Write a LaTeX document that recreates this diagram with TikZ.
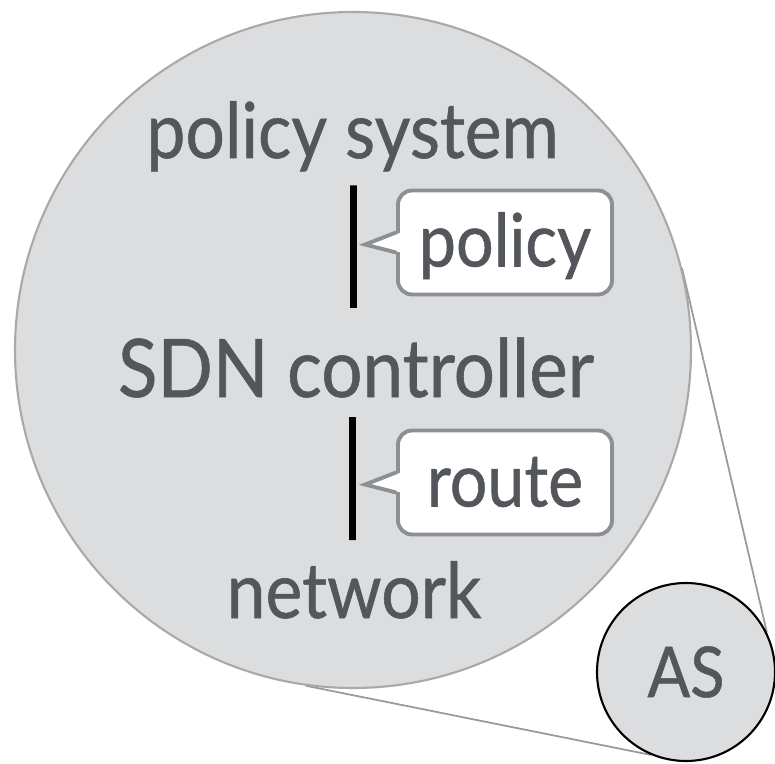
\documentclass[tikz,border=0pt]{standalone}
\usepackage{fontspec}
\setmainfont{Lato}
\newfontfamily\labelfont{Lato}[FakeStretch=0.9, FakeBold=0.7]
\usepackage{tikz}
\usetikzlibrary{backgrounds}
\definecolor{diskfill}{HTML}{DCDDDF}
\definecolor{diskedge}{HTML}{A9A9A9}
\definecolor{labeltext}{HTML}{53575C}
\definecolor{tagedge}{HTML}{8C8F93}
\definecolor{zoomedge}{HTML}{9A9A9A}
\tikzset{
    bigdisk/.style={circle, draw=diskedge, fill=diskfill, line width=1.2pt, minimum size=13.52cm, inner sep=0pt},
    asdisk/.style={circle, draw=black, fill=diskfill, line width=1.2pt, minimum size=3.56cm, inner sep=0pt, text=labeltext, font=\labelfont\fontsize{40}{46}\selectfont},
    layer/.style={anchor=base, text=labeltext, inner sep=0pt, font=\labelfont\fontsize{44}{52}\selectfont},
    tag/.style={rectangle, rounded corners=8pt, draw=tagedge, fill=white, line width=2.2pt, minimum width=4.28cm, inner xsep=0pt, inner ysep=0pt, text height=1.52cm, text depth=0.56cm, text=labeltext, font=\labelfont\fontsize{42}{50}\selectfont},
    tagtail/.style={draw=tagedge, line width=2.2pt, line join=miter},
    bar/.style={line width=3.8pt, draw=black},
    zoomline/.style={draw=zoomedge, line width=1pt},
}
\begin{document}
\begin{tikzpicture}
    \useasboundingbox (0,0) rectangle (15.5,15.26);
    \node [bigdisk] (big) at (7.06,8.26) {};
    \node [asdisk] (as) at (13.72,1.82) {AS};
    \node [layer] (sys) at (7.05,12.1) {policy system};
    \node [layer, font=\labelfont\fontsize{46}{54}\selectfont] (ctrl) at (7.12,7.32) {SDN controller};
    \node [layer] (net) at (7.08,2.9) {network};
    \node [tag] (pol) at (10.1,10.41) {policy};
    \node [tag] (rte) at (10.1,5.61) {route};
    % tails of the two tags
    \fill [white] ([xshift=3pt,yshift=0.2cm]pol.west) -- ++(-0.62cm-3pt,-0.24) -- ([xshift=3pt,yshift=-0.2cm]pol.west) -- cycle;
    \draw [tagtail] ([yshift=0.2cm]pol.west) -- ++(-0.62,-0.24) -- ([yshift=-0.2cm]pol.west);
    \fill [white] ([xshift=3pt,yshift=0.2cm]rte.west) -- ++(-0.62cm-3pt,-0.24) -- ([xshift=3pt,yshift=-0.2cm]rte.west) -- cycle;
    \draw [tagtail] ([yshift=0.2cm]rte.west) -- ++(-0.62,-0.24) -- ([yshift=-0.2cm]rte.west);
    % bars between the layers
    \draw [bar] ([xshift=0.02cm,yshift=-0.55cm]sys.base) -- ([xshift=-0.05cm,yshift=1.78cm]ctrl.base);
    \draw [bar] ([xshift=-0.07cm,yshift=-0.4cm]ctrl.base) -- ([xshift=-0.03cm,yshift=1.56cm]net.base);
    \begin{scope}[on background layer]
        \draw [zoomline] (big.14.8) -- (as.26);
        \draw [zoomline] (big.262.7) -- (as.247);
    \end{scope}
\end{tikzpicture}
\end{document}
